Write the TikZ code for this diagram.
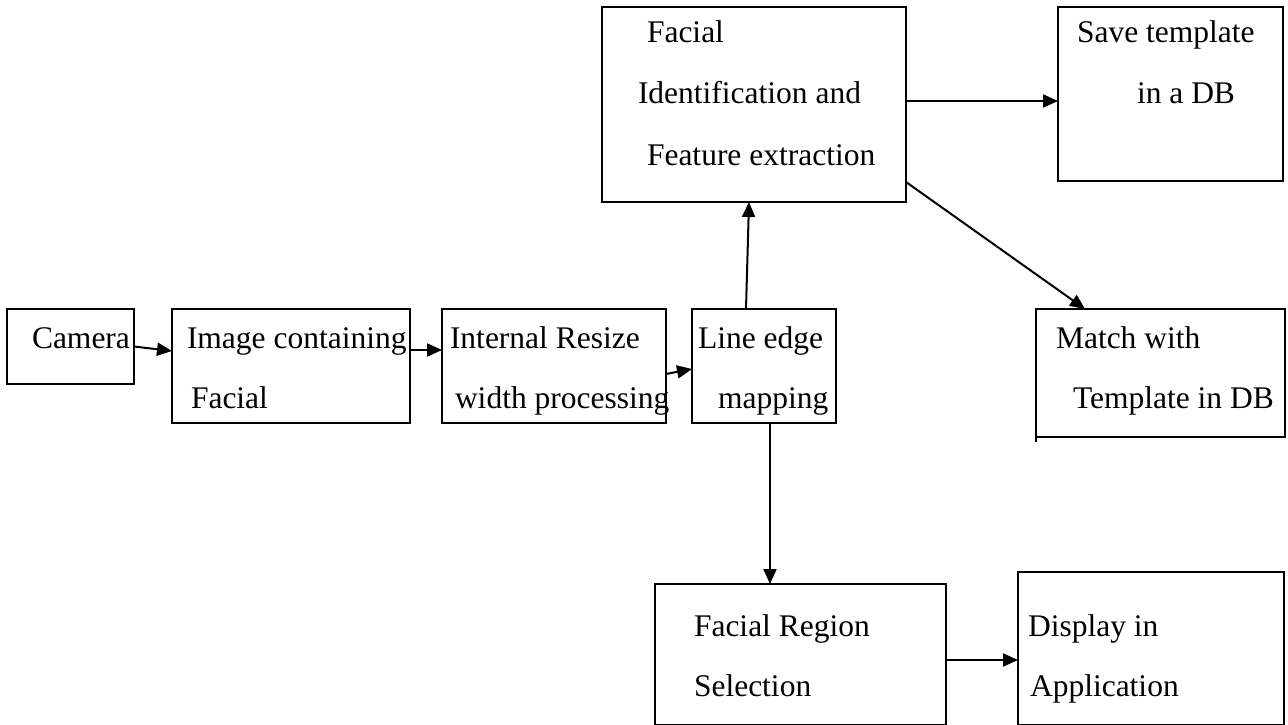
\documentclass[tikz,border=0pt]{standalone}
\usepackage{fontspec}
\setmainfont{Liberation Serif}
\usetikzlibrary{arrows.meta}
\begin{document}
\begin{tikzpicture}[x=1pt,y=-1pt,
  box/.style={draw=black,line width=2pt,inner sep=0pt,outer sep=0pt},
  txt/.style={anchor=base west,inner sep=0pt,outer sep=0pt,font=\fontsize{31.5}{36}\selectfont},
  arr/.style={draw=black,line width=2pt,-{Triangle[length=15pt,width=13pt]}}]
\useasboundingbox (0,0) rectangle (1288,725);
% boxes
\node[box,minimum width=127pt,minimum height=75pt] (cam) at (70.5,346.5) {};
\node[box,minimum width=238pt,minimum height=114pt] (img) at (291,366) {};
\node[box,minimum width=224pt,minimum height=114pt] (int) at (554,366) {};
\node[box,minimum width=144pt,minimum height=114pt] (line) at (764,366) {};
\node[box,minimum width=304pt,minimum height=195pt] (fid) at (754,104.5) {};
\node[box,minimum width=225pt,minimum height=174pt] (save) at (1170.5,94) {};
\node[box,minimum width=249pt,minimum height=128pt] (match) at (1160.5,373) {};
\node[box,minimum width=291pt,minimum height=141pt] (fr) at (800.5,654.5) {};
\node[box,minimum width=266pt,minimum height=153pt] (disp) at (1151,648.5) {};
\coordinate (mtail) at ([yshift=-5pt]match.south west);
\draw[line width=2pt] (match.south west) -- (mtail);
% texts
\node[txt] (t1) at (32,348) {Camera};
\node[txt] (t2) at (187,348) {Image containing};
\node[txt] (t3) at (191,408) {Facial};
\node[txt] (t4) at (450,348) {Internal Resize};
\node[txt] (t5) at (455,408) {width processing};
\node[txt] (t6) at (698,348) {Line edge};
\node[txt] (t7) at (718,408) {mapping};
\node[txt] (t8) at (647,43) {Facial};
\node[txt] (t9) at (638,103) {Identification and};
\node[txt] (t10) at (647,165) {Feature extraction};
\node[txt] (t11) at (1077,43) {Save template};
\node[txt] (t12) at (1137,103) {in a DB};
\node[txt] (t13) at (1056,348) {Match with};
\node[txt] (t14) at (1073,408) {Template in DB};
\node[txt] (t15) at (694,636) {Facial Region};
\node[txt] (t16) at (694,696) {Selection};
\node[txt] (t17) at (1028,636) {Display in};
\node[txt] (t18) at (1030,696) {Application};
% connectors
\draw[arr] (cam.east) -- ([yshift=15pt]img.west);
\draw[arr] ([yshift=16pt]img.east) -- ([yshift=16pt]int.west);
\draw[arr] ([yshift=-8pt]int.east) -- ([yshift=-3pt]line.west);
\draw[arr] ([xshift=-18pt]line.north) -- ([xshift=-5pt]fid.south);
\draw[arr] ([xshift=6pt]line.south) -- ([xshift=-30.5pt]fr.north);
\draw[arr] ([yshift=3.5pt]fid.east) -- ([yshift=-7pt]save.west);
\draw[arr] ([yshift=20pt]fid.south east) -- ([xshift=-75.5pt]match.north);
\draw[arr] ([yshift=-5.5pt]fr.east) -- ([yshift=-11.5pt]disp.west);
\end{tikzpicture}
\end{document}
